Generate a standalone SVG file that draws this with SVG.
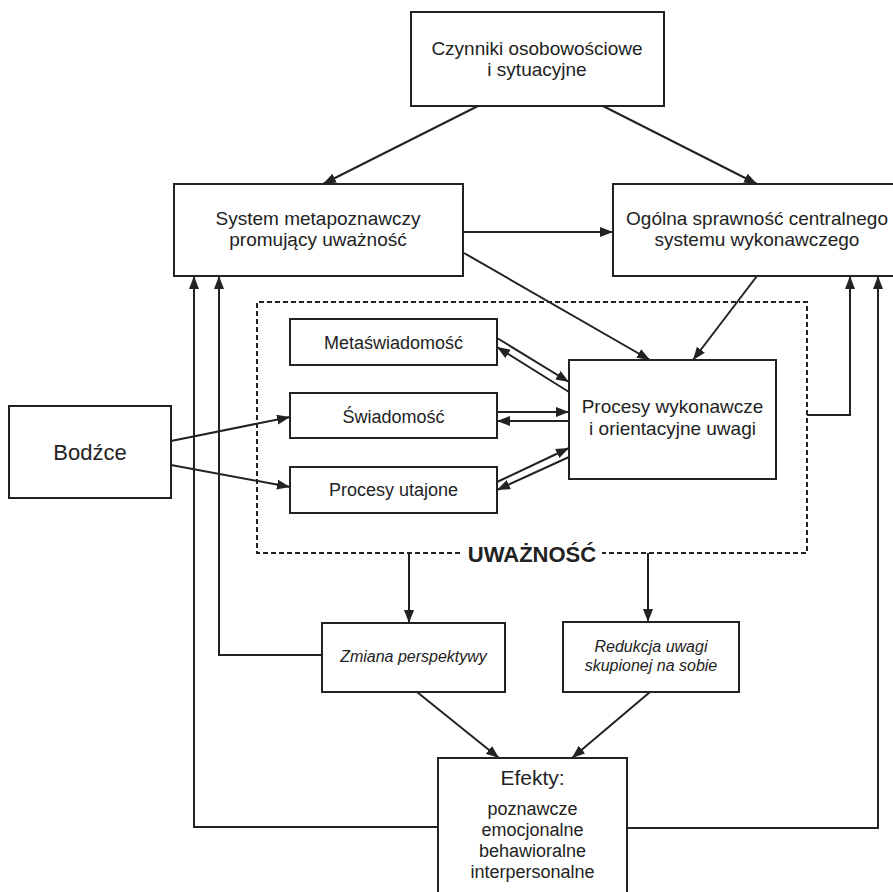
<svg xmlns="http://www.w3.org/2000/svg" width="893" height="892" viewBox="0 0 893 892">
<style>
.box{fill:#fff;stroke:#222;stroke-width:2}
.t{font-family:"Liberation Sans",Arial,sans-serif;fill:#222;text-anchor:middle}
.n{font-size:19px}
.s{font-size:18px}
.i{font-size:16px;font-style:italic}
.c{fill:none;stroke:#222;stroke-width:2}
.dash{fill:none;stroke:#222;stroke-width:2;stroke-dasharray:5,3}
</style>
<defs>
<marker id="ah" markerUnits="userSpaceOnUse" markerWidth="14" markerHeight="11" refX="13" refY="5" orient="auto" viewBox="0 0 14 11">
<path d="M0,0 L13,5 L0,10 z" fill="#222"/>
</marker>
</defs>
<rect width="893" height="892" fill="#fff"/>

<g id="uwaznosc">
<path class="dash" d="M460,553 L257,553 L257,302 L807,302 L807,553 L602,553"/>
<text class="t" x="532" y="562" style="font-size:22px;font-weight:bold">UWAŻNOŚĆ</text>
</g>

<g id="connectors">
<path class="c" d="M478,106 L323,184" marker-end="url(#ah)"/>
<path class="c" d="M603,106 L757,184" marker-end="url(#ah)"/>
<path class="c" d="M463,232 L613,232" marker-end="url(#ah)"/>
<path class="c" d="M464,253 L650,360" marker-end="url(#ah)"/>
<path class="c" d="M757,276 L693,360" marker-end="url(#ah)"/>
<path class="c" d="M807,415 L850,415 L850,276" marker-end="url(#ah)"/>
<path class="c" d="M171,441 L290,417" marker-end="url(#ah)"/>
<path class="c" d="M171,465 L290,487" marker-end="url(#ah)"/>
<path class="c" d="M497,338 L569,382" marker-end="url(#ah)"/>
<path class="c" d="M569,392 L497,347" marker-end="url(#ah)"/>
<path class="c" d="M497,412 L569,412" marker-end="url(#ah)"/>
<path class="c" d="M569,421 L497,421" marker-end="url(#ah)"/>
<path class="c" d="M497,482 L569,448" marker-end="url(#ah)"/>
<path class="c" d="M569,457 L497,490" marker-end="url(#ah)"/>
<path class="c" d="M409,553 L409,623" marker-end="url(#ah)"/>
<path class="c" d="M648,553 L648,622" marker-end="url(#ah)"/>
<path class="c" d="M322,655 L219,655 L219,276" marker-end="url(#ah)"/>
<path class="c" d="M438,827 L194,827 L194,276" marker-end="url(#ah)"/>
<path class="c" d="M627,828 L878,828 L878,276" marker-end="url(#ah)"/>
<path class="c" d="M417,692 L499,758" marker-end="url(#ah)"/>
<path class="c" d="M650,692 L572,758" marker-end="url(#ah)"/>
</g>

<g id="czynniki">
<rect class="box" x="411" y="12" width="253" height="94"/>
<text class="t n" x="537" y="55">Czynniki osobowościowe</text>
<text class="t n" x="537" y="76">i sytuacyjne</text>
</g>

<g id="system-meta">
<rect class="box" x="174" y="184" width="289" height="92"/>
<text class="t n" x="318" y="225">System metapoznawczy</text>
<text class="t n" x="318" y="246">promujący uważność</text>
</g>

<g id="ogolna">
<rect class="box" x="613" y="184" width="300" height="92"/>
<text class="t n" x="757" y="225">Ogólna sprawność centralnego</text>
<text class="t n" x="757" y="246">systemu wykonawczego</text>
</g>

<g id="metaswiadomosc">
<rect class="box" x="290" y="319" width="207" height="46"/>
<text class="t s" x="393.5" y="349">Metaświadomość</text>
</g>

<g id="swiadomosc">
<rect class="box" x="290" y="393" width="207" height="45"/>
<text class="t s" x="393.5" y="423">Świadomość</text>
</g>

<g id="utajone">
<rect class="box" x="290" y="467" width="207" height="46"/>
<text class="t s" x="393.5" y="496">Procesy utajone</text>
</g>

<g id="wykonawcze">
<rect class="box" x="569" y="360" width="207" height="119"/>
<text class="t n" x="672.5" y="413">Procesy wykonawcze</text>
<text class="t n" x="672.5" y="435">i orientacyjne uwagi</text>
</g>

<g id="bodzce">
<rect class="box" x="9" y="406" width="162" height="92"/>
<text class="t" x="90" y="460" style="font-size:22px">Bodźce</text>
</g>

<g id="zmiana">
<rect class="box" x="322" y="623" width="183" height="69"/>
<text class="t i" x="413.5" y="662">Zmiana perspektywy</text>
</g>

<g id="redukcja">
<rect class="box" x="563" y="622" width="176" height="70"/>
<text class="t i" x="651" y="652">Redukcja uwagi</text>
<text class="t i" x="651" y="671">skupionej na sobie</text>
</g>

<g id="efekty">
<rect class="box" x="438" y="758" width="189" height="150"/>
<text class="t" x="532.5" y="785" style="font-size:21px">Efekty:</text>
<text class="t s" x="532.5" y="815">poznawcze</text>
<text class="t s" x="532.5" y="836">emocjonalne</text>
<text class="t s" x="532.5" y="857">behawioralne</text>
<text class="t s" x="532.5" y="878">interpersonalne</text>
</g>
</svg>
